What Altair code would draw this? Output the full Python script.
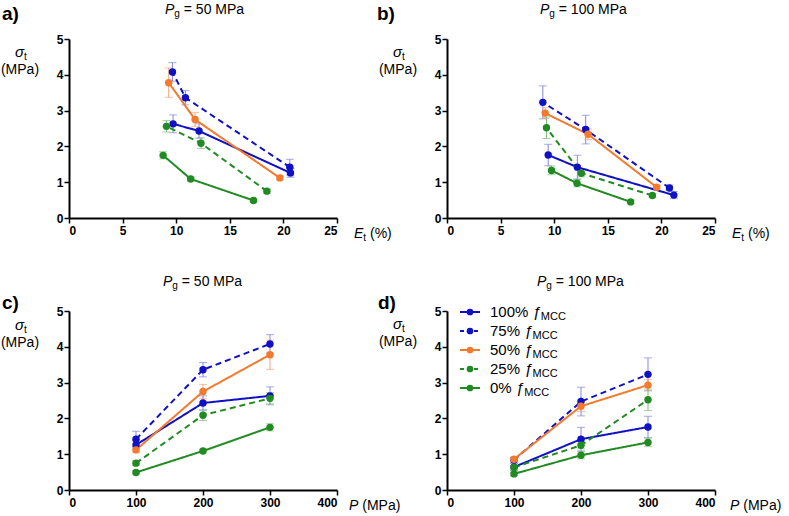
import altair as alt
import pandas as pd

FONT = "Liberation Sans"

series = ["100%", "75%", "50%", "25%", "0%"]
pressures = [100, 200, 300]

# Pg = 50 MPa: elongation (%), tensile strength (MPa) and its SD, per compaction pressure
et_50 = {"100%": [20.66, 12.13, 9.71], "75%": [20.60, 10.86, 9.65], "50%": [19.67, 11.76, 9.30],
         "25%": [18.46, 12.31, 9.09], "0%": [17.21, 11.35, 8.78]}
sig_50 = {"100%": [1.26, 2.43, 2.63], "75%": [1.42, 3.36, 4.08], "50%": [1.12, 2.75, 3.78],
          "25%": [0.75, 2.09, 2.56], "0%": [0.49, 1.09, 1.75]}
sd_50 = {"100%": [0.12, 0.20, 0.25], "75%": [0.22, 0.20, 0.26], "50%": [0.06, 0.20, 0.41],
         "25%": [0.06, 0.15, 0.16], "0%": [0.04, 0.05, 0.10]}

# Pg = 100 MPa
et_100 = {"100%": [21.16, 12.16, 9.44], "75%": [20.75, 12.94, 8.94], "50%": [19.56, 13.16, 9.16],
          "25%": [19.16, 12.53, 9.28], "0%": [17.13, 12.13, 9.75]}
sig_100 = {"100%": [0.64, 1.42, 1.76], "75%": [0.84, 2.47, 3.23], "50%": [0.86, 2.34, 2.93],
           "25%": [0.63, 1.25, 2.52], "0%": [0.45, 0.97, 1.33]}
sd_100 = {"100%": [0.10, 0.33, 0.30], "75%": [0.08, 0.40, 0.46], "50%": [0.05, 0.15, 0.15],
          "25%": [0.05, 0.10, 0.30], "0%": [0.05, 0.10, 0.12]}

line_colors = {"100%": "#1010c4", "75%": "#1010c4", "50%": "#f37a2c", "25%": "#228a22", "0%": "#228a22"}
err_colors = {"100%": "#8585dc", "75%": "#8585dc", "50%": "#f2a680", "25%": "#7dbf7d", "0%": "#7dbf7d"}
dashes = {"100%": [1, 0], "75%": [6, 4], "50%": [1, 0], "25%": [6, 4], "0%": [1, 0]}

rows = []
for pg, et, sig, sd in [(50, et_50, sig_50, sd_50), (100, et_100, sig_100, sd_100)]:
    for s in series:
        for i, p in enumerate(pressures):
            rows.append({"Pg": pg, "series": s, "P": p, "Et": et[s][i], "sigma": sig[s][i],
                         "lo": sig[s][i] - sd[s][i], "hi": sig[s][i] + sd[s][i]})
df = pd.DataFrame(rows)
ONE = pd.DataFrame({"k": [0]})

# Arial / Liberation Sans advance widths (em)
ADV = {**{d: 0.556 for d in "0123456789"}, " ": 0.278, "=": 0.584, "M": 0.833, "P": 0.667,
       "a": 0.556, "%": 0.889, "(": 0.333, ")": 0.333, "E": 0.667, "g": 0.556, "t": 0.278,
       "C": 0.722, "ƒ": 0.556, "σ": 0.6}


def text_w(s, size):
    return sum(ADV.get(c, 0.556) for c in s) * size


def txt(text, x, y, size=14, italic=False, bold=False, align="left"):
    return alt.Chart(ONE).mark_text(
        text=text, font=FONT, fontSize=size, fontStyle="italic" if italic else "normal",
        fontWeight="bold" if bold else "normal", align=align, baseline="alphabetic", color="black"
    ).encode(x=alt.value(x), y=alt.value(y))


def rich(parts, x0, y0):
    """Lay out text runs left to right; leading/trailing spaces become gaps."""
    out, x = [], x0
    for text, size, italic, dy in parts:
        lead = len(text) - len(text.lstrip(" "))
        x += lead * ADV[" "] * size
        body = text.strip(" ")
        out.append(txt(body, x, y0 + dy, size=size, italic=italic))
        x += text_w(body, size)
        x += (len(text.lstrip(" ")) - len(body)) * ADV[" "] * size
    return out


def panel(pg, xfield, xmax, xstep, tag, tag_xy, title_x, xlabel, xlabel_x, ytitle_dy=0, legend=False, anchor=False):
    d = alt.Chart(df[df.Pg == pg])
    xs = alt.X(f"{xfield}:Q", scale=alt.Scale(domain=[0, xmax], nice=False),
               axis=alt.Axis(values=list(range(0, xmax + 1, xstep)), title=None))

    def ys(field):
        return alt.Y(f"{field}:Q", scale=alt.Scale(domain=[0, 5], nice=False),
                     axis=alt.Axis(values=[0, 1, 2, 3, 4, 5], title=None))

    c_err = alt.Color("series:N", scale=alt.Scale(domain=series, range=[err_colors[s] for s in series]), legend=None)
    c_line = alt.Color("series:N", scale=alt.Scale(domain=series, range=[line_colors[s] for s in series]), legend=None)
    dash = alt.StrokeDash("series:N", scale=alt.Scale(domain=series, range=[dashes[s] for s in series]), legend=None)

    err = d.mark_rule(strokeWidth=1).encode(x=xs, y=ys("lo"), y2="hi:Q", color=c_err)
    caps = d.transform_fold(["lo", "hi"], as_=["end", "yv"]).mark_tick(
        orient="horizontal", size=8, thickness=1).encode(x=xs, y=ys("yv"), color=c_err)
    line = d.mark_line(strokeWidth=2).encode(x=xs, y=ys("sigma"), color=c_line, strokeDash=dash, order="P:Q")
    pts = d.mark_circle(size=55, opacity=1).encode(x=xs, y=ys("sigma"), color=c_line)

    layers = [err, caps, line, pts]
    # panel tag and title
    layers.append(txt(tag, tag_xy[0], tag_xy[1], size=19, bold=True))
    layers += rich([("P", 14, True, 0), ("g", 10, False, 3), (f" = {pg} MPa", 14, False, 0)], title_x, -25)
    # y-axis title
    layers += rich([("σ", 15, True, 0), ("t", 10, False, 3)], -54, 18 + ytitle_dy)
    layers.append(txt("(MPa)", -49, 35 + ytitle_dy, size=14, align="center"))
    # x-axis title
    layers += rich(xlabel, xlabel_x, 199)

    if legend:
        for i, s in enumerate(series):
            yy = 1 + 19 * i
            layers.append(alt.Chart(ONE).mark_rule(color=line_colors[s], strokeWidth=2,
                                                   strokeDash=[4, 3] if dashes[s][1] else [1, 0]).encode(
                x=alt.value(13), x2=alt.value(33), y=alt.value(yy)))
            layers.append(alt.Chart(ONE).mark_circle(color=line_colors[s], size=45, opacity=1).encode(
                x=alt.value(23), y=alt.value(yy)))
            layers += rich([(f"{s} ", 15, False, 0), ("ƒ", 15, True, 0), ("MCC", 11, False, 3)], 43, yy + 5)

    if anchor:
        layers.append(alt.Chart(ONE).mark_rule(strokeOpacity=0, opacity=0).encode(
            x=alt.value(-69), x2=alt.value(-69), y=alt.value(-39), y2=alt.value(-39)))

    return alt.layer(*layers).resolve_scale(color="independent").properties(width=268, height=179)


et_label = [("E", 14, True, 0), ("t", 10, False, 3), (" (%)", 14, False, 0)]
p_label = [("P", 14, True, 0), (" (MPa)", 14, False, 0)]

pa = panel(50, "Et", 25, 5, "a)", (-67, -19), 96, et_label, 285, anchor=True)
pb = panel(100, "Et", 25, 5, "b)", (-70, -19), 93, et_label, 285)
pc = panel(50, "P", 400, 100, "c)", (-67, -2), 94, p_label, 280, ytitle_dy=1)
pd_ = panel(100, "P", 400, 100, "d)", (-69, -2), 90, p_label, 283, legend=True)

chart = alt.concat(pa, pb, pc, pd_, columns=2, spacing={"row": 93, "column": 110}, bounds="flush").properties(
    padding=0
).configure_view(stroke=None).configure_axis(
    domainColor="black", domainWidth=2, tickColor="black", tickWidth=1.5, tickSize=5,
    labelFont=FONT, labelFontWeight="bold", labelFontSize=12, labelColor="black", grid=False
).configure_axisX(labelPadding=2).configure_axisY(labelPadding=1)

chart.save("out.html", embed_options={"renderer": "svg", "actions": False})
